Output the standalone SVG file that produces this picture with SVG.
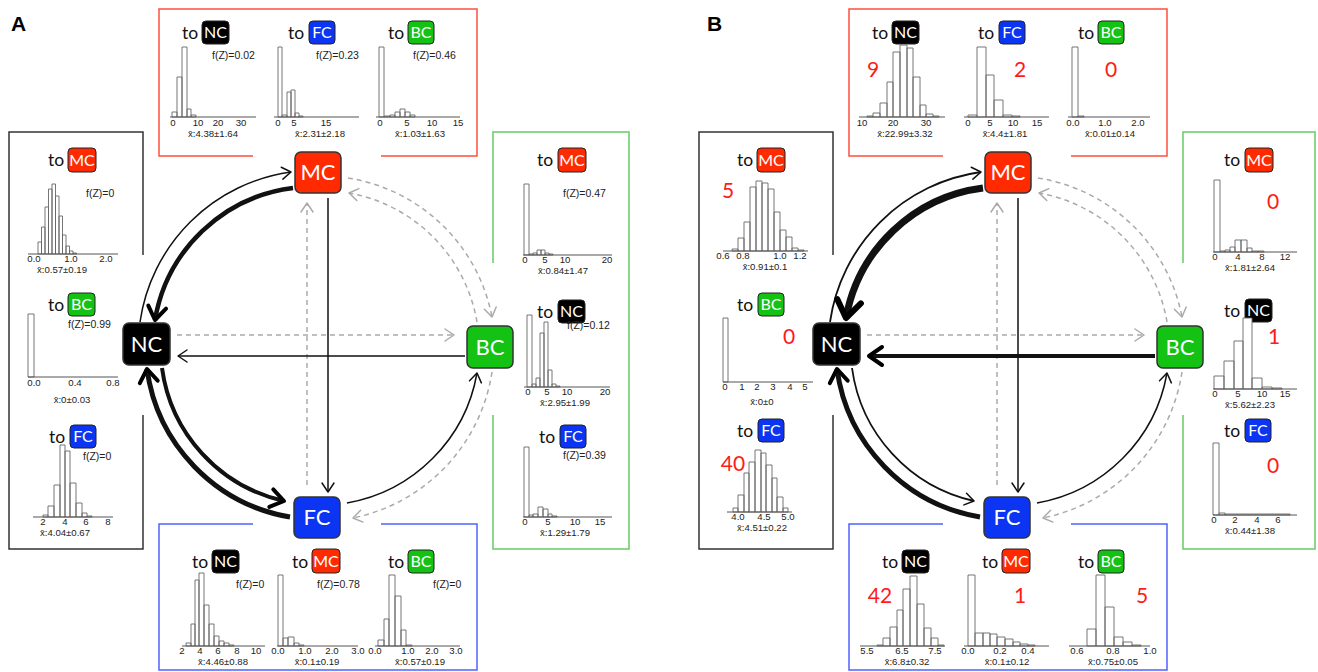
<svg xmlns="http://www.w3.org/2000/svg" width="1318" height="672" viewBox="0 0 1318 672">
<style>
.to{font-family:Lato,"Open Sans",sans-serif;font-size:17.5px;fill:#111}
.lt{font-family:Lato,"Open Sans",sans-serif;font-size:16px;fill:#fff;text-anchor:middle}
.lb{stroke:#222;stroke-width:1}
.r{fill:#ff2a00}.b{fill:#0b35f3}.g{fill:#13c213}.k{fill:#000}
.bar{fill:#fff;stroke:#666;stroke-width:0.9}
.ax{stroke:#555;stroke-width:1;fill:none}
.fz{font-family:"Liberation Sans",Arial,sans-serif;font-size:10.5px;fill:#222}
.tk{font-family:"Liberation Sans",Arial,sans-serif;font-size:9.6px;fill:#222;text-anchor:middle}
.mn{font-family:"Liberation Sans",Arial,sans-serif;font-size:9.6px;fill:#222;text-anchor:middle}
.num{font-family:Lato,"Open Sans",sans-serif;font-size:21px;fill:#ff1a1a;text-anchor:middle}
.nd{stroke:#333;stroke-width:1.5}
.ntx{font-family:Lato,"Open Sans",sans-serif;font-size:22px;fill:#fff;text-anchor:middle}
.frame{fill:none;stroke-width:1.5}
.pl{font-family:"Liberation Sans",Arial,sans-serif;font-size:21px;font-weight:bold;fill:#000}
.c{fill:none;stroke:#111}
.d{fill:none;stroke:#aaa;stroke-width:1.5;stroke-dasharray:5 4}
</style>
<defs>
<marker id="mThin" markerUnits="userSpaceOnUse" viewBox="-20 -20 40 40" markerWidth="40" markerHeight="40" refX="0" refY="0" orient="auto"><path d="M-9,-6 L0,0 L-9,6" fill="none" stroke="#111" stroke-width="1.5" stroke-linecap="round" stroke-linejoin="round"/></marker>
<marker id="mThick" markerUnits="userSpaceOnUse" viewBox="-25 -25 50 50" markerWidth="50" markerHeight="50" refX="0" refY="0" orient="auto"><path d="M-13,-9 L0,0 L-13,9" fill="none" stroke="#000" stroke-width="4" stroke-linecap="round" stroke-linejoin="round"/></marker>
<marker id="mX" markerUnits="userSpaceOnUse" viewBox="-30 -30 60 60" markerWidth="60" markerHeight="60" refX="0" refY="0" orient="auto"><path d="M-17,-12 L0,0 L-17,12" fill="none" stroke="#000" stroke-width="6" stroke-linecap="round" stroke-linejoin="round"/></marker>
<marker id="mGray" markerUnits="userSpaceOnUse" viewBox="-20 -20 40 40" markerWidth="40" markerHeight="40" refX="0" refY="0" orient="auto"><path d="M-9,-6 L0,0 L-9,6" fill="none" stroke="#aaa" stroke-width="1.5" stroke-linecap="round" stroke-linejoin="round"/></marker>
</defs>
<rect width="1318" height="672" fill="#fff"/>
<text class="pl" x="11" y="31">A</text>
<text class="pl" x="707" y="31">B</text>

<!-- frames -->
<g id="frames">
<path class="frame" stroke="#ff4d3d" d="M253,156H159V9H477V156H381"/>
<path class="frame" stroke="#333" d="M143,255V132H9V549H143V415"/>
<path class="frame" stroke="#66cc66" d="M493,263V132H629V549H493V415"/>
<path class="frame" stroke="#4f63ff" d="M253,524H159V670H477V524H381"/>
<path class="frame" stroke="#ff4d3d" d="M943,156H849V9H1167V156H1071"/>
<path class="frame" stroke="#333" d="M833,255V132H699V549H833V415"/>
<path class="frame" stroke="#66cc66" d="M1183,263V132H1315V549H1183V415"/>
<path class="frame" stroke="#4f63ff" d="M943,524H849V670H1167V524H1071"/>
</g>

<!-- connectors -->
<g id="connectors-A">
<path class="c" stroke-width="1.5" d="M140,322A177,177 0 0 1 291,172" marker-end="url(#mThin)"/>
<path class="c" stroke="#000" stroke-width="4.5" d="M293,188A160,160 0 0 0 155,320" marker-end="url(#mThick)"/>
<path class="c" stroke="#000" stroke-width="4" d="M162,368A158,158 0 0 0 284,501" marker-end="url(#mThick)"/>
<path class="c" stroke="#000" stroke-width="5" d="M290,517A174,174 0 0 1 147,369" marker-end="url(#mThick)"/>
<path class="c" stroke-width="1.5" d="M328,198V492" marker-end="url(#mThin)"/>
<path class="d" d="M307,485V203" marker-end="url(#mGray)"/>
<path class="d" d="M177,335H454" marker-end="url(#mGray)"/>
<path class="c" stroke-width="1.5" d="M465,356H178" marker-end="url(#mThin)"/>
<path class="d" d="M348,178A174,174 0 0 1 492,317" marker-end="url(#mGray)"/>
<path class="d" d="M477,322A158,158 0 0 0 349,193" marker-end="url(#mGray)"/>
<path class="c" stroke-width="1.5" d="M347,503A160,160 0 0 0 477,373" marker-end="url(#mThin)"/>
<path class="d" d="M492,372A176,176 0 0 1 353,518" marker-end="url(#mGray)"/>
</g>
<g id="connectors-B" transform="translate(690,0)">
<path class="c" stroke-width="1.8" d="M140,322A177,177 0 0 1 291,172" marker-end="url(#mThin)"/>
<path class="c" stroke="#000" stroke-width="7" d="M293,188A160,160 0 0 0 156,318" marker-end="url(#mX)"/>
<path class="c" stroke-width="1.8" d="M162,368A158,158 0 0 0 284,501" marker-end="url(#mThin)"/>
<path class="c" stroke="#000" stroke-width="5" d="M290,517A174,174 0 0 1 147,369" marker-end="url(#mThick)"/>
<path class="c" stroke-width="1.5" d="M328,198V492" marker-end="url(#mThin)"/>
<path class="d" d="M307,485V203" marker-end="url(#mGray)"/>
<path class="d" d="M177,335H454" marker-end="url(#mGray)"/>
<path class="c" stroke="#000" stroke-width="3.8" d="M465,356H179" marker-end="url(#mThick)"/>
<path class="d" d="M348,178A174,174 0 0 1 492,317" marker-end="url(#mGray)"/>
<path class="d" d="M477,322A158,158 0 0 0 349,193" marker-end="url(#mGray)"/>
<path class="c" stroke-width="1.5" d="M347,503A160,160 0 0 0 477,373" marker-end="url(#mThin)"/>
<path class="d" d="M492,372A176,176 0 0 1 353,518" marker-end="url(#mGray)"/>
</g>

<!-- nodes A -->
<g id="A-MC"><rect class="nd r" x="295" y="152" width="46" height="41" rx="6"/><text class="ntx" x="318" y="180">MC</text></g>
<g id="A-NC"><rect class="nd k" x="123" y="323" width="47" height="42" rx="6"/><text class="ntx" x="146.5" y="352">NC</text></g>
<g id="A-BC"><rect class="nd g" x="467" y="326" width="46" height="42" rx="6"/><text class="ntx" x="490" y="355">BC</text></g>
<g id="A-FC"><rect class="nd b" x="294" y="497" width="46" height="41" rx="6"/><text class="ntx" x="317" y="525">FC</text></g>
<!-- nodes B -->
<g id="B-MC"><rect class="nd r" x="985" y="152" width="46" height="41" rx="6"/><text class="ntx" x="1008" y="180">MC</text></g>
<g id="B-NC"><rect class="nd k" x="813" y="323" width="47" height="42" rx="6"/><text class="ntx" x="836.5" y="352">NC</text></g>
<g id="B-BC"><rect class="nd g" x="1157" y="326" width="46" height="42" rx="6"/><text class="ntx" x="1180" y="355">BC</text></g>
<g id="B-FC"><rect class="nd b" x="984" y="497" width="46" height="41" rx="6"/><text class="ntx" x="1007" y="525">FC</text></g>

<!-- ===== Panel A histograms ===== -->
<g id="A-MC-to-NC">
<text class="to" x="182" y="39">to</text><rect class="lb k" x="202" y="21" width="27" height="23" rx="4"/><text class="lt" x="215.5" y="38">NC</text>
<text class="fz" x="212" y="59">f(Z)=0.02</text>
<path class="bar" d="M172,117V112H177V117Z M177,117V77H182V117Z M182,117V47H187V117Z M187,117V109H191V117Z M191,117V115H196V117Z"/>
<path class="ax" d="M170,117H256"/>
<text class="tk" y="126"><tspan x="173">0</tspan><tspan x="198">10</tspan><tspan x="218">20</tspan><tspan x="241">30</tspan></text>
<text class="mn" x="213" y="137">x̄:4.38±1.64</text>
</g>
<g id="A-MC-to-FC">
<text class="to" x="288" y="39">to</text><rect class="lb b" x="309" y="21" width="26" height="23" rx="4"/><text class="lt" x="322" y="38">FC</text>
<text class="fz" x="316" y="59">f(Z)=0.23</text>
<path class="bar" d="M278,117V47H282V117Z M282,117V115H287V117Z M287,117V92H291V117Z M291,117V90H295V117Z M295,117V113H299V117Z M299,117V116H303V117Z"/>
<path class="ax" d="M274,117H359"/>
<text class="tk" y="126"><tspan x="278">0</tspan><tspan x="294">5</tspan><tspan x="326">15</tspan></text>
<text class="mn" x="320" y="137">x̄:2.31±2.18</text>
</g>
<g id="A-MC-to-BC">
<text class="to" x="388" y="39">to</text><rect class="lb g" x="408" y="21" width="26" height="23" rx="4"/><text class="lt" x="421" y="38">BC</text>
<text class="fz" x="413" y="59">f(Z)=0.46</text>
<path class="bar" d="M379,117V47H384V117Z M384,117V116H390V117Z M390,117V115H395V117Z M395,117V112H400V117Z M400,117V109H405V117Z M405,117V112H410V117Z M410,117V115H415V117Z"/>
<path class="ax" d="M376,117H460"/>
<text class="tk" y="126"><tspan x="380">0</tspan><tspan x="407">5</tspan><tspan x="432">10</tspan><tspan x="458">15</tspan></text>
<text class="mn" x="420" y="137">x̄:1.03±1.63</text>
</g>

<g id="A-NC-to-MC">
<text class="to" x="48" y="166">to</text><rect class="lb r" x="68" y="148" width="28" height="24" rx="4"/><text class="lt" x="82" y="165.5">MC</text>
<text class="fz" x="86" y="197">f(Z)=0</text>
<path class="bar" d="M38,254V242H41.5V254Z M41.5,254V227H45V254Z M45,254V207H48.5V254Z M48.5,254V189H52V254Z M52,254V184H55.5V254Z M55.5,254V196H59V254Z M59,254V216H62.5V254Z M62.5,254V235H66V254Z M66,254V246H69.5V254Z M69.5,254V251H73V254Z M73,254V253H76.5V254Z"/>
<path class="ax" d="M28,254H118"/>
<text class="tk" y="262"><tspan x="34">0.0</tspan><tspan x="71">1.0</tspan><tspan x="106">2.0</tspan></text>
<text class="mn" x="62" y="273">x̄:0.57±0.19</text>
</g>
<g id="A-NC-to-BC">
<text class="to" x="48" y="311">to</text><rect class="lb g" x="68" y="293" width="27" height="23" rx="4"/><text class="lt" x="81.5" y="310">BC</text>
<text class="fz" x="68" y="328">f(Z)=0.99</text>
<path class="bar" d="M28,377V314H34V377Z"/>
<path class="ax" d="M28,377H118"/>
<text class="tk" y="386"><tspan x="34">0.0</tspan><tspan x="75">0.4</tspan><tspan x="113">0.8</tspan></text>
<text class="mn" x="72" y="403">x̄:0±0.03</text>
</g>
<g id="A-NC-to-FC">
<text class="to" x="49" y="443">to</text><rect class="lb b" x="70" y="425" width="26" height="23" rx="4"/><text class="lt" x="83" y="442">FC</text>
<text class="fz" x="83" y="460">f(Z)=0</text>
<path class="bar" d="M43,517V515H48V517Z M48,517V506H54V517Z M54,517V485H60V517Z M60,517V445H65V517Z M65,517V451H70V517Z M70,517V483H76V517Z M76,517V503H82V517Z M82,517V513H87V517Z M87,517V516H92V517Z"/>
<path class="ax" d="M33,517H113"/>
<text class="tk" y="525"><tspan x="43">2</tspan><tspan x="65">4</tspan><tspan x="86">6</tspan><tspan x="108">8</tspan></text>
<text class="mn" x="65" y="536">x̄:4.04±0.67</text>
</g>

<g id="A-BC-to-MC">
<text class="to" x="537" y="166">to</text><rect class="lb r" x="558" y="148" width="28" height="24" rx="4"/><text class="lt" x="572" y="165.5">MC</text>
<text class="fz" x="563" y="197">f(Z)=0.47</text>
<path class="bar" d="M524,255V184H529V255Z M529,255V254H533V255Z M533,255V253H537V255Z M537,255V250H541V255Z M541,255V250H545V255Z M545,255V253H549V255Z M549,255V254H553V255Z"/>
<path class="ax" d="M523,255H612"/>
<text class="tk" y="263"><tspan x="525">0</tspan><tspan x="545">5</tspan><tspan x="565">10</tspan><tspan x="607">20</tspan></text>
<text class="mn" x="563" y="274">x̄:0.84±1.47</text>
</g>
<g id="A-BC-to-NC">
<text class="to" x="537" y="318">to</text><rect class="lb k" x="558" y="300" width="27" height="23" rx="4"/><text class="lt" x="571.5" y="317">NC</text>
<text class="fz" x="567" y="329">f(Z)=0.12</text>
<path class="bar" d="M527,387V315H532V387Z M532,387V384H536V387Z M536,387V378H540V387Z M540,387V333H544V387Z M544,387V322H548V387Z M548,387V370H552V387Z M552,387V384H556V387Z M556,387V386H560V387Z"/>
<path class="ax" d="M524,387H610"/>
<text class="tk" y="395"><tspan x="528">0</tspan><tspan x="547">5</tspan><tspan x="567">10</tspan><tspan x="605">20</tspan></text>
<text class="mn" x="565" y="406">x̄:2.95±1.99</text>
</g>
<g id="A-BC-to-FC">
<text class="to" x="539" y="443">to</text><rect class="lb b" x="560" y="425" width="26" height="23" rx="4"/><text class="lt" x="573" y="442">FC</text>
<text class="fz" x="563" y="459">f(Z)=0.39</text>
<path class="bar" d="M524,517V447H529V517Z M529,517V515H533V517Z M533,517V514H538V517Z M538,517V507H543V517Z M543,517V509H548V517Z M548,517V514H552V517Z M552,517V516H557V517Z"/>
<path class="ax" d="M523,517H612"/>
<text class="tk" y="525"><tspan x="525">0</tspan><tspan x="548">5</tspan><tspan x="575">10</tspan><tspan x="600">15</tspan></text>
<text class="mn" x="565" y="536">x̄:1.29±1.79</text>
</g>

<g id="A-FC-to-NC">
<text class="to" x="192" y="568">to</text><rect class="lb k" x="212" y="550" width="27" height="23" rx="4"/><text class="lt" x="225.5" y="567">NC</text>
<text class="fz" x="236" y="588">f(Z)=0</text>
<path class="bar" d="M186,646V643H191V646Z M191,646V624H195V646Z M195,646V580H199V646Z M199,646V573H204V646Z M204,646V605H209V646Z M209,646V624H214V646Z M214,646V636H219V646Z M219,646V641H224V646Z M224,646V643H229V646Z M229,646V645H234V646Z"/>
<path class="ax" d="M182,646H265"/>
<text class="tk" y="654"><tspan x="182">2</tspan><tspan x="200">4</tspan><tspan x="218">6</tspan><tspan x="237">8</tspan><tspan x="256">10</tspan></text>
<text class="mn" x="223" y="665">x̄:4.46±0.88</text>
</g>
<g id="A-FC-to-MC">
<text class="to" x="292" y="568">to</text><rect class="lb r" x="312" y="549" width="28" height="24" rx="4"/><text class="lt" x="326" y="567">MC</text>
<text class="fz" x="317" y="588">f(Z)=0.78</text>
<path class="bar" d="M278,646V575H283V646Z M283,646V638H288V646Z M288,646V637H294V646Z M294,646V643H299V646Z M299,646V645H304V646Z"/>
<path class="ax" d="M277,646H358"/>
<text class="tk" y="654"><tspan x="278">0.0</tspan><tspan x="305">1.0</tspan><tspan x="332">2.0</tspan><tspan x="358">3.0</tspan></text>
<text class="mn" x="317" y="665">x̄:0.1±0.19</text>
</g>
<g id="A-FC-to-BC">
<text class="to" x="388" y="568">to</text><rect class="lb g" x="408" y="550" width="26" height="23" rx="4"/><text class="lt" x="421" y="567">BC</text>
<text class="fz" x="433" y="588">f(Z)=0</text>
<path class="bar" d="M378,646V640H384V646Z M384,646V619H389V646Z M389,646V575H395V646Z M395,646V596H401V646Z M401,646V630H406V646Z M406,646V645H412V646Z"/>
<path class="ax" d="M375,646H460"/>
<text class="tk" y="654"><tspan x="375">0.0</tspan><tspan x="408">1.0</tspan><tspan x="432">2.0</tspan><tspan x="456">3.0</tspan></text>
<text class="mn" x="420" y="665">x̄:0.57±0.19</text>
</g>

<!-- ===== Panel B histograms ===== -->
<g id="B-MC-to-NC">
<text class="to" x="872" y="39">to</text><rect class="lb k" x="892" y="21" width="27" height="23" rx="4"/><text class="lt" x="905.5" y="38">NC</text>
<text class="num" x="873" y="77">9</text>
<path class="bar" d="M867,117V116H873V117Z M873,117V113H880V117Z M880,117V103H887V117Z M887,117V82H893V117Z M893,117V52H900V117Z M900,117V45H907V117Z M907,117V48H913V117Z M913,117V77H920V117Z M920,117V105H926V117Z M926,117V114H933V117Z M933,117V116H939V117Z"/>
<path class="ax" d="M859,117H945"/>
<text class="tk" y="126"><tspan x="862">10</tspan><tspan x="893">20</tspan><tspan x="926">30</tspan></text>
<text class="mn" x="905" y="137">x̄:22.99±3.32</text>
</g>
<g id="B-MC-to-FC">
<text class="to" x="978" y="39">to</text><rect class="lb b" x="999" y="21" width="26" height="23" rx="4"/><text class="lt" x="1012" y="38">FC</text>
<text class="num" x="1020" y="77">2</text>
<path class="bar" d="M968,117V115H977V117Z M977,117V47H986V117Z M986,117V75H994V117Z M994,117V100H1003V117Z M1003,117V115H1012V117Z M1012,117V116H1020V117Z"/>
<path class="ax" d="M964,117H1049"/>
<text class="tk" y="126"><tspan x="968">0</tspan><tspan x="990">5</tspan><tspan x="1013">10</tspan><tspan x="1037">15</tspan></text>
<text class="mn" x="1005" y="137">x̄:4.4±1.81</text>
</g>
<g id="B-MC-to-BC">
<text class="to" x="1078" y="39">to</text><rect class="lb g" x="1098" y="21" width="26" height="23" rx="4"/><text class="lt" x="1111" y="38">BC</text>
<text class="num" x="1111" y="77">0</text>
<path class="bar" d="M1072,117V47H1078V117Z M1078,117V116H1084V117Z"/>
<path class="ax" d="M1068,117H1150"/>
<text class="tk" y="126"><tspan x="1073">0.0</tspan><tspan x="1105">1.0</tspan><tspan x="1138">2.0</tspan></text>
<text class="mn" x="1110" y="137">x̄:0.01±0.14</text>
</g>

<g id="B-NC-to-MC">
<text class="to" x="737" y="166">to</text><rect class="lb r" x="757" y="148" width="28" height="24" rx="4"/><text class="lt" x="771" y="165.5">MC</text>
<text class="num" x="728" y="198">5</text>
<path class="bar" d="M732,251V249H738V251Z M738,251V238H744V251Z M744,251V222H750V251Z M750,251V187H756V251Z M756,251V181H762V251Z M762,251V183H768V251Z M768,251V189H774V251Z M774,251V212H780V251Z M780,251V230H786V251Z M786,251V237H792V251Z M792,251V248H798V251Z M798,251V250H804V251Z"/>
<path class="ax" d="M723,251H808"/>
<text class="tk" y="259"><tspan x="723">0.6</tspan><tspan x="743">0.8</tspan><tspan x="780">1.0</tspan><tspan x="800">1.2</tspan></text>
<text class="mn" x="765" y="270">x̄:0.91±0.1</text>
</g>
<g id="B-NC-to-BC">
<text class="to" x="737" y="311">to</text><rect class="lb g" x="758" y="293" width="26" height="23" rx="4"/><text class="lt" x="771" y="310">BC</text>
<text class="num" x="789" y="344">0</text>
<path class="bar" d="M723,382V318H728V382Z"/>
<path class="ax" d="M723,382H813"/>
<text class="tk" y="390"><tspan x="725">0</tspan><tspan x="742">1</tspan><tspan x="757">2</tspan><tspan x="773">3</tspan><tspan x="790">4</tspan><tspan x="805">5</tspan></text>
<text class="mn" x="762" y="405">x̄:0±0</text>
</g>
<g id="B-NC-to-FC">
<text class="to" x="737" y="437">to</text><rect class="lb b" x="758" y="419" width="26" height="23" rx="4"/><text class="lt" x="771" y="436">FC</text>
<text class="num" x="733" y="471">40</text>
<path class="bar" d="M733,512V508H738V512Z M738,512V495H744V512Z M744,512V473H749V512Z M749,512V462H755V512Z M755,512V450H761V512Z M761,512V453H766V512Z M766,512V465H772V512Z M772,512V478H777V512Z M777,512V497H783V512Z M783,512V508H788V512Z"/>
<path class="ax" d="M727,512H792"/>
<text class="tk" y="520"><tspan x="738">4.0</tspan><tspan x="764">4.5</tspan><tspan x="788">5.0</tspan></text>
<text class="mn" x="762" y="531">x̄:4.51±0.22</text>
</g>

<g id="B-BC-to-MC">
<text class="to" x="1224" y="166">to</text><rect class="lb r" x="1245" y="148" width="28" height="24" rx="4"/><text class="lt" x="1259" y="165.5">MC</text>
<text class="num" x="1273" y="209">0</text>
<path class="bar" d="M1214,252V180H1220V252Z M1220,252V251H1225V252Z M1225,252V250H1230V252Z M1230,252V247H1235V252Z M1235,252V240H1241V252Z M1241,252V240H1247V252Z M1247,252V248H1252V252Z M1252,252V251H1258V252Z M1258,252V251H1264V252Z"/>
<path class="ax" d="M1213,252H1297"/>
<text class="tk" y="260"><tspan x="1215">0</tspan><tspan x="1238">4</tspan><tspan x="1262">8</tspan><tspan x="1285">12</tspan></text>
<text class="mn" x="1250" y="271">x̄:1.81±2.64</text>
</g>
<g id="B-BC-to-NC">
<text class="to" x="1224" y="317">to</text><rect class="lb k" x="1245" y="299" width="27" height="23" rx="4"/><text class="lt" x="1258.5" y="316">NC</text>
<text class="num" x="1274" y="344">1</text>
<path class="bar" d="M1214,389V376H1224V389Z M1224,389V361H1234V389Z M1234,389V341H1243V389Z M1243,389V318H1252V389Z M1252,389V378H1262V389Z M1262,389V387H1272V389Z M1272,389V388H1282V389Z"/>
<path class="ax" d="M1213,389H1297"/>
<text class="tk" y="397"><tspan x="1215">0</tspan><tspan x="1238">5</tspan><tspan x="1262">10</tspan><tspan x="1285">15</tspan></text>
<text class="mn" x="1250" y="408">x̄:5.62±2.23</text>
</g>
<g id="B-BC-to-FC">
<text class="to" x="1224" y="437">to</text><rect class="lb b" x="1245" y="419" width="26" height="23" rx="4"/><text class="lt" x="1258" y="436">FC</text>
<text class="num" x="1273" y="473">0</text>
<path class="bar" d="M1213,515V443H1219V515Z M1219,515V513H1225V515Z M1225,515V514H1290V515Z"/>
<path class="ax" d="M1213,515H1297"/>
<text class="tk" y="523"><tspan x="1214">0</tspan><tspan x="1235">2</tspan><tspan x="1257">4</tspan><tspan x="1278">6</tspan></text>
<text class="mn" x="1250" y="534">x̄:0.44±1.38</text>
</g>

<g id="B-FC-to-NC">
<text class="to" x="882" y="568">to</text><rect class="lb k" x="902" y="550" width="27" height="23" rx="4"/><text class="lt" x="915.5" y="567">NC</text>
<text class="num" x="880" y="603">42</text>
<path class="bar" d="M877,646V645H883V646Z M883,646V638H890V646Z M890,646V627H897V646Z M897,646V610H903V646Z M903,646V589H910V646Z M910,646V576H917V646Z M917,646V604H924V646Z M924,646V628H931V646Z M931,646V638H938V646Z M938,646V645H944V646Z"/>
<path class="ax" d="M860,646H945"/>
<text class="tk" y="654"><tspan x="867">5.5</tspan><tspan x="902">6.5</tspan><tspan x="935">7.5</tspan></text>
<text class="mn" x="907" y="665">x̄:6.8±0.32</text>
</g>
<g id="B-FC-to-MC">
<text class="to" x="982" y="568">to</text><rect class="lb r" x="1002" y="549" width="28" height="24" rx="4"/><text class="lt" x="1016" y="567">MC</text>
<text class="num" x="1020" y="603">1</text>
<path class="bar" d="M968,646V575H975V646Z M975,646V633H983V646Z M983,646V633H990V646Z M990,646V634H997V646Z M997,646V637H1005V646Z M1005,646V639H1013V646Z M1013,646V642H1020V646Z M1020,646V644H1028V646Z M1028,646V645H1035V646Z"/>
<path class="ax" d="M964,646H1049"/>
<text class="tk" y="654"><tspan x="968">0.0</tspan><tspan x="1000">0.2</tspan><tspan x="1028">0.4</tspan></text>
<text class="mn" x="1007" y="665">x̄:0.1±0.12</text>
</g>
<g id="B-FC-to-BC">
<text class="to" x="1078" y="568">to</text><rect class="lb g" x="1098" y="550" width="26" height="23" rx="4"/><text class="lt" x="1111" y="567">BC</text>
<text class="num" x="1142" y="603">5</text>
<path class="bar" d="M1087,646V629H1096V646Z M1096,646V575H1105V646Z M1105,646V607H1114V646Z M1114,646V637H1123V646Z M1123,646V642H1132V646Z M1132,646V645H1141V646Z"/>
<path class="ax" d="M1069,646H1150"/>
<text class="tk" y="654"><tspan x="1077">0.6</tspan><tspan x="1113">0.8</tspan><tspan x="1150">1.0</tspan></text>
<text class="mn" x="1113" y="665">x̄:0.75±0.05</text>
</g>
</svg>
